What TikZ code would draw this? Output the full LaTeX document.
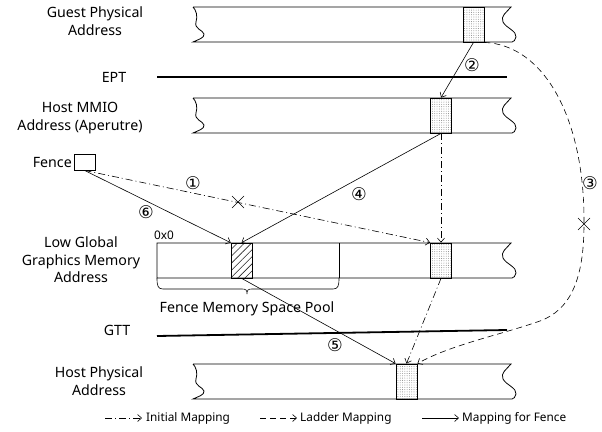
\documentclass[tikz,border=0pt]{standalone}
\usepackage{fontspec}
\setmainfont{Noto Sans}
\newfontfamily\circfont{DejaVu Sans}
\usetikzlibrary{arrows.meta,patterns.meta}
\begin{document}
\begin{tikzpicture}[x=1pt,y=-1pt,
  bar/.style={line width=0.8pt},
  thickline/.style={line width=1.8pt},
  lbl/.style={font=\fontsize{14.2}{17.5}\selectfont, align=center, inner sep=0pt},
  small/.style={font=\fontsize{11.8}{13}\selectfont, inner sep=0pt},
  circ/.style={font=\circfont\fontsize{17.5}{17.5}\selectfont, inner sep=0pt},
  dotbox/.style={draw, line width=0.8pt, minimum width=21pt, minimum height=35pt, inner sep=0pt, pattern={Dots[distance=2.3pt,radius=0.45pt]}, pattern color=gray},
  hatchbox/.style={draw, line width=0.8pt, minimum width=21pt, minimum height=35pt, inner sep=0pt, pattern={Lines[angle=45,distance=5pt,line width=0.6pt]}, pattern color=black!85},
  conn/.style={line width=0.6pt, -{Straight Barb[length=4pt,width=7pt]}},
  dashdot/.style={dash pattern=on 7pt off 3pt on 1pt off 3pt},
  ladder/.style={dash pattern=on 6pt off 4pt},
  xmark/.style={line width=0.6pt}
]
\path[fill=white, use as bounding box] (0,0) rectangle (602,431);

% bars with wavy ends
\foreach \y in {7,98,364}{
  \draw[bar] (193,\y) -- (511,\y)
    .. controls (507,\y+5) and (500,\y+9) .. (503,\y+15)
    .. controls (506,\y+21) and (517,\y+24) .. (516,\y+30)
    .. controls (515,\y+33) and (514,\y+35) .. (512,\y+35)
    -- (193,\y+35)
    .. controls (197,\y+33) and (205,\y+31) .. (204,\y+27)
    .. controls (203,\y+23) and (194,\y+22) .. (196,\y+15)
    .. controls (198,\y+9) and (196,\y+3) .. (193,\y);
}
% low global graphics memory bar
\draw[bar] (157,243) -- (511,243)
    .. controls (507,248) and (500,252) .. (503,258)
    .. controls (506,264) and (517,267) .. (516,273)
    .. controls (515,276) and (514,278) .. (512,278)
    -- (157,278) -- cycle;
\draw[bar] (339,243) -- (339,278);
% brace
\draw[line width=0.6pt] (157,278) .. controls (157,286) and (158,289) .. (163,289) -- (242,289)
  .. controls (246,289) and (247,290) .. (247,294)
  .. controls (247,290) and (248,289) .. (252,289) -- (333,289)
  .. controls (338,289) and (339,286) .. (339,278);

% EPT and GTT lines
\draw[thickline] (157,77) -- (507,77);
\draw[thickline] (157,336) -- (507,330);

% highlighted boxes
\node[dotbox] (gpaS) at (473.5,24.5) {};
\node[dotbox] (mmioS) at (441,115.5) {};
\node[dotbox] (lgmS) at (441,260.5) {};
\node[dotbox] (hpaS) at (406.5,381.5) {};
\node[hatchbox] (fenceH) at (241.5,260.5) {};
\node[draw, line width=0.8pt, minimum width=21pt, minimum height=16pt, inner sep=0pt] (fence) at (84.5,162) {};

% labels
\node[lbl] (gpal) at (95,21) {Guest Physical\\Address};
\node[lbl] (eptl) at (114,77) {EPT};
\node[lbl] (mmiol) at (80,118) {Host MMIO\\Address (Aperutre)};
\node[lbl, anchor=east] (fencel) at (72,162) {Fence};
\node[lbl] (lgml) at (81,260) {Low Global\\Graphics Memory\\Address};
\node[lbl] (gttl) at (117,330) {GTT};
\node[lbl] (hpal) at (99,381) {Host Physical\\Address};
\node[small] (zero) at (164,235) {0x0};
\node[lbl] (pool) at (247,309) {Fence Memory Space Pool};

% circled numbers
\node[circ] (n1) at (193,183) {①};
\node[circ] (n2) at (472,65) {②};
\node[circ] (n3) at (590,183) {③};
\node[circ] (n4) at (359,194) {④};
\node[circ] (n5) at (335,345) {⑤};
\node[circ] (n6) at (146,212) {⑥};

% connectors
\draw[conn] (gpaS.south) -- (mmioS.north);
\draw[conn] (mmioS.south) -- (fenceH.north);
\draw[conn, dashdot] (mmioS.south) -- (lgmS.north);
\draw[conn, dashdot] (fence.south) -- (lgmS.north west);
\draw[conn] (fence.south) -- (fenceH.north west);
\draw[conn] (fenceH.south) -- (hpaS.north west);
\draw[conn, dashdot] (lgmS.south) -- (hpaS.north);
\coordinate (lx) at (584,224);
\coordinate (lm) at (540,321);
\draw[conn, ladder] (gpaS.south east) .. controls (545,45) and (585,120) .. (lx)
  .. controls (584,280) and (570,310) .. (lm)
  .. controls (500,335) and (450,345) .. (hpaS.north east);

% X marks
\coordinate (x1) at (238,202);
\draw[xmark] ([shift={(-6,-6)}]x1) -- ([shift={(6,6)}]x1);
\draw[xmark] ([shift={(-6,6)}]x1) -- ([shift={(6,-6)}]x1);
\draw[xmark] ([shift={(-6,-6)}]lx) -- ([shift={(6,6)}]lx);
\draw[xmark] ([shift={(-6,6)}]lx) -- ([shift={(6,-6)}]lx);

% legend
\coordinate (la) at (105,418); \coordinate (lb) at (142,418);
\coordinate (lc) at (260,418); \coordinate (ld) at (297,418);
\coordinate (le) at (422,418); \coordinate (lf) at (459,418);
\draw[conn, dashdot] (la) -- (lb);
\draw[conn, ladder] (lc) -- (ld);
\draw[conn] (le) -- (lf);
\node[small, anchor=west] (t1) at (146,418) {Initial Mapping};
\node[small, anchor=west] (t2) at (300,418) {Ladder Mapping};
\node[small, anchor=west] (t3) at (462,418) {Mapping for Fence};
\end{tikzpicture}
\end{document}
